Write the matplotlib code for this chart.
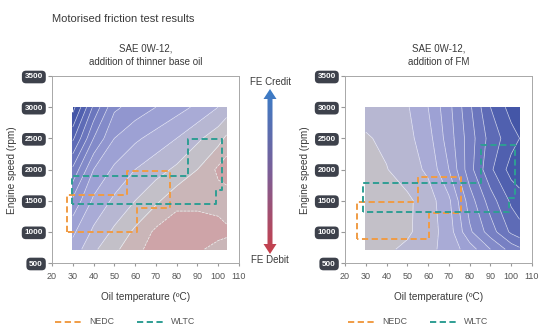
import numpy as np
import matplotlib
matplotlib.use('Agg')
import matplotlib.pyplot as plt
from matplotlib.colors import LinearSegmentedColormap, Normalize
from matplotlib.patches import Polygon
from matplotlib.lines import Line2D

plt.rcParams['font.family'] = ['Liberation Sans', 'DejaVu Sans']

# ---- data ----
temps = [30, 40, 50, 60, 70, 80, 90, 100, 104]
rpms = [720, 1000, 1500, 2000, 2500, 3000]

# FE benefit (positive = credit), rows follow rpms, columns follow temps
fe_thinner = [
    [1.3, 0.6, 0.1, -0.3, -0.8, -0.9, -0.6, -0.3, -0.3],
    [1.6, 0.9, 0.4, -0.1, -0.6, -0.8, -0.8, -0.7, -0.6],
    [2.4, 1.4, 0.9, 0.5, 0.1, -0.35, -0.35, -0.3, -0.2],
    [3.4, 2.0, 1.4, 1.0, 0.7, 0.4, 0.0, -0.6, -0.8],
    [4.6, 3.0, 2.0, 1.6, 1.3, 1.0, 0.6, 0.2, -0.1],
    [5.7, 3.9, 2.6, 2.3, 2.0, 1.7, 1.4, 1.0, 0.8],
]
fe_fm = [
    [0.3, 0.42, 0.6, 0.85, 1.2, 1.75, 2.5, 3.2, 3.4],
    [0.25, 0.3, 0.42, 0.75, 1.25, 2.4, 3.25, 4.1, 4.3],
    [0.2, 0.25, 0.4, 0.75, 1.4, 2.75, 3.75, 4.6, 4.8],
    [0.3, 0.48, 0.75, 1.1, 2.0, 3.3, 4.4, 5.2, 5.3],
    [0.45, 0.6, 0.85, 1.3, 2.25, 3.25, 4.2, 4.8, 5.0],
    [0.7, 0.8, 0.95, 1.5, 2.35, 3.4, 4.5, 5.2, 5.4],
]

nedc_thinner_t = [27, 27, 56, 56, 77, 77, 61, 61, 27]
nedc_thinner_rpm = [995, 1585, 1585, 1975, 1975, 1385, 1385, 995, 995]
wltc_thinner_t = [29.5, 29.5, 85.5, 85.5, 102, 102, 98.7, 98.7, 29.5]
wltc_thinner_rpm = [1445, 1895, 1895, 2495, 2495, 1665, 1665, 1445, 1445]

nedc_fm_t = [26, 26, 55, 55, 76, 76, 60.5, 60.5, 26]
nedc_fm_rpm = [885, 1474, 1474, 1885, 1885, 1300, 1300, 885, 885]
wltc_fm_t = [28.6, 28.6, 85.5, 85.5, 102, 102, 99, 99, 28.6]
wltc_fm_rpm = [1324, 1779, 1779, 2390, 2390, 1540, 1540, 1324, 1324]

x_ticks = [20, 30, 40, 50, 60, 70, 80, 90, 100, 110]
y_ticks = [500, 1000, 1500, 2000, 2500, 3000, 3500]

NEDC_C = '#f09c45'
WLTC_C = '#2f9e94'
TXT = '#3a3a3a'

cmap = LinearSegmentedColormap.from_list('fe', [
    (0.0, '#cf9fa4'), (0.5 / 7, '#ccaaad'), (1 / 7, '#c7c2c4'),
    (1.5 / 7, '#bfbecc'), (2 / 7, '#afb0d8'), (3 / 7, '#979cd2'),
    (4 / 7, '#7d85c6'), (5 / 7, '#6571ba'), (6 / 7, '#4a5bab'),
    (1.0, '#34479a')])
norm = Normalize(-1, 6)
levels = np.arange(-1.0, 6.01, 0.5)

W, H = 550, 334
fig = plt.figure(figsize=(W / 100, H / 100), dpi=100)


def fx(x):
    return x / W


def fy(y):
    return 1 - y / H


def panel(left_px, z, nedc, wltc, subtitle):
    ax = fig.add_axes([fx(left_px), fy(263), 187 / W, 187 / H])
    T, R = np.meshgrid(temps, rpms)
    ax.contourf(T, R, np.array(z), levels=levels, cmap=cmap, norm=norm)
    ax.contour(T, R, np.array(z), levels=levels, colors='white',
               linewidths=0.5, alpha=0.75)
    ax.plot(nedc[0], nedc[1], color=NEDC_C, lw=1.4, dashes=(3.2, 1.8))
    ax.plot(wltc[0], wltc[1], color=WLTC_C, lw=1.4, dashes=(3.2, 1.8))
    ax.set_xlim(20, 110)
    ax.set_ylim(500, 3500)
    ax.set_xticks(x_ticks)
    ax.set_yticks(y_ticks)
    for s in ax.spines.values():
        s.set_color('#a8a8a8')
        s.set_linewidth(0.7)
    ax.tick_params(axis='x', length=2.5, color='#999999', labelsize=6.5,
                   labelcolor='#555555', pad=4)
    ax.tick_params(axis='y', length=3, color='#999999', labelsize=5.8,
                   labelcolor='white', pad=3.5)
    for t in ax.yaxis.get_major_ticks():
        t.label1.set_fontweight('bold')
        t.label1.set_bbox(dict(boxstyle='round,pad=0.35,rounding_size=0.5',
                               fc='#3d414b', ec='none'))
    cx = left_px + 93.5
    fig.text(fx(cx), fy(55), subtitle, ha='center', va='center',
             fontsize=7, color=TXT, linespacing=1.45)
    fig.text(fx(cx), fy(297), 'Oil temperature (ºC)', ha='center',
             va='center', fontsize=7.2, color=TXT)
    fig.text(fx(left_px - 40), fy(170), 'Engine speed (rpm)', ha='center',
             va='center', rotation=90, fontsize=7.2, color=TXT)
    # legend row
    for x0, c, lab in [(left_px + 3, NEDC_C, 'NEDC'),
                       (left_px + 85, WLTC_C, 'WLTC')]:
        fig.add_artist(Line2D([fx(x0), fx(x0 + 28)], [fy(322), fy(322)],
                              color=c, lw=1.4, dashes=(3.2, 1.8)))
        fig.text(fx(x0 + 34), fy(322), lab, ha='left', va='center',
                 fontsize=6.3, color='#555555')
    return ax


panel(52, fe_thinner, (nedc_thinner_t, nedc_thinner_rpm),
      (wltc_thinner_t, wltc_thinner_rpm),
      'SAE 0W-12,\naddition of thinner base oil')
panel(345, fe_fm, (nedc_fm_t, nedc_fm_rpm), (wltc_fm_t, wltc_fm_rpm),
      'SAE 0W-12,\naddition of FM')

fig.text(fx(52), fy(19), 'Motorised friction test results', ha='left',
         va='center', fontsize=8, color=TXT)

# FE credit / debit arrow with gradient
L = 165
arrow_ax = fig.add_axes([fx(260), fy(89 + L), 20 / W, L / H])
arrow_ax.set_xlim(-10, 10)
arrow_ax.set_ylim(0, L)
arrow_ax.axis('off')
hw, sw, hl = 6.5, 2.5, 10
verts = [(0, L), (hw, L - hl), (sw, L - hl), (sw, hl), (hw, hl), (0, 0),
         (-hw, hl), (-sw, hl), (-sw, L - hl), (-hw, L - hl)]
poly = Polygon(verts, closed=True, fc='none', ec='none')
arrow_ax.add_patch(poly)
arrow_cmap = LinearSegmentedColormap.from_list(
    'arr', ['#c8404a', '#7b5f98', '#3a7dc8'])
grad = np.linspace(0, 1, 256).reshape(-1, 1)
im = arrow_ax.imshow(grad, cmap=arrow_cmap, origin='lower',
                     extent=[-10, 10, 0, L], aspect='auto')
im.set_clip_path(poly)
fig.text(fx(270), fy(82), 'FE Credit', ha='center', va='center',
         fontsize=7, color=TXT)
fig.text(fx(270), fy(260), 'FE Debit', ha='center', va='center',
         fontsize=7, color=TXT)

fig.savefig('out.png', dpi=100)
